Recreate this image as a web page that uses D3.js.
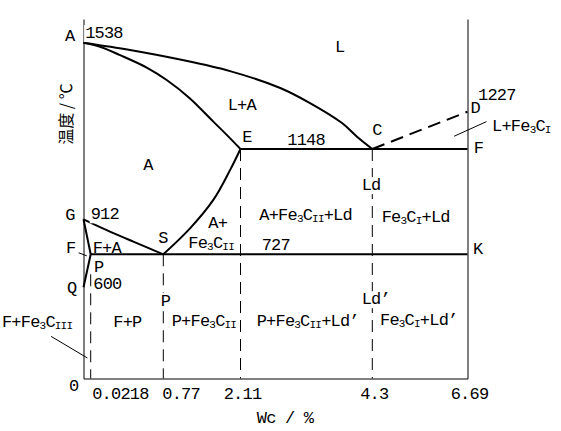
<!DOCTYPE html>
<html>
<head>
<meta charset="utf-8">
<script src="https://d3js.org/d3.v7.min.js"></script>
<style>
  body { margin: 0; background: #fff; }
  svg text { font-family: "Liberation Mono", monospace; font-size: 17px; letter-spacing: -0.8px; fill: #000; }
  .phase { fill: none; stroke: #000; stroke-width: 2; }
  .guide { fill: none; stroke: #000; stroke-width: 1; stroke-dasharray: 12,7; }
  .leader { fill: none; stroke: #000; stroke-width: 1; }
  .domain { stroke: #000; stroke-width: 1; }
</style>
</head>
<body>
<div id="chart"></div>
<script>
// carbon content ticks (wt% C)
var carbonTicks = [0, 0.0218, 0.77, 2.11, 4.3, 6.69];
var carbonTickLabels = ["0", "0.0218", "0.77", "2.11", "4.3", "6.69"];

// key temperatures (deg C), last one is the top of the frame
var keyTemps = [0, 600, 727, 912, 1148, 1227, 1538, 1645];

// phase boundaries as [wt% C, deg C]
var liquidusAC = [[0, 1538], [0.427, 1505], [1.06, 1462], [1.928, 1410], [2.77, 1334],
  [3.265, 1266], [3.797, 1203], [4.046, 1174], [4.3, 1148]];
var liquidusCD = [[4.3, 1148], [6.69, 1227]];
var solidusAE = [[0, 1538], [0.118, 1520], [0.324, 1482], [0.599, 1426], [0.829, 1370],
  [1.233, 1287], [1.638, 1206], [1.871, 1178], [2.11, 1148]];
var eutecticECF = [[2.11, 1148], [6.69, 1148]];
var lineGS = [[0, 912], [0.187, 855], [0.461, 794], [0.77, 727]];
var lineES = [[0.77, 727], [1.234, 864], [1.638, 977], [1.928, 1077], [2.11, 1148]];
var lineGP = [[0, 912], [0.0218, 727]];
var linePQ = [[0.0218, 727], [0, 600]];
var eutectoidPSK = [[0.0218, 727], [6.69, 727]];

// dashed composition guides
var guides = [
  [[0.0218, 650], [0.0218, 0]],
  [[0.77, 727], [0.77, 0]],
  [[2.11, 1148], [2.11, 0]],
  [[4.3, 1148], [4.3, 0]]
];

// leader lines
var leaders = [
  [[6.354, 1175], [7.166, 1206]],
  [[-0.0147, 735], [0.01, 721]],
  [[-0.098, 277], [0.0118, 135]]
];

// labels: x in wt% C, t in deg C ( _{..} = subscript )
var labels = [
  {text: "A", x: -0.0274, t: 1547},
  {text: "1538", x: 0.005, t: 1559},
  {text: "L", x: 3.68, t: 1495},
  {text: "L+A", x: 1.888, t: 1233},
  {text: "E", x: 2.14, t: 1162},
  {text: "1148", x: 2.888, t: 1157},
  {text: "C", x: 4.3, t: 1177},
  {text: "1227", x: 6.955, t: 1280},
  {text: "D", x: 6.765, t: 1224},
  {text: "L+Fe_{3}C_{I}", x: 7.306, t: 1186},
  {text: "F", x: 6.848, t: 1134},
  {text: "Ld", x: 4.124, t: 1010},
  {text: "A", x: 0.564, t: 1077},
  {text: "G", x: -0.0265, t: 908},
  {text: "912", x: 0.0218, t: 912},
  {text: "A+", x: 1.551, t: 864},
  {text: "Fe_{3}C_{II}", x: 1.204, t: 759},
  {text: "A+Fe_{3}C_{II}+Ld", x: 2.422, t: 906},
  {text: "Fe_{3}C_{I}+Ld", x: 4.535, t: 900},
  {text: "727", x: 2.462, t: 750},
  {text: "K", x: 6.83, t: 728},
  {text: "S", x: 0.718, t: 785},
  {text: "F+A", x: 0.0424, t: 736},
  {text: "F", x: -0.0245, t: 732},
  {text: "P", x: 0.0558, t: 660},
  {text: "600", x: 0.0486, t: 587},
  {text: "Q", x: -0.0215, t: 563},
  {text: "P", x: 0.743, t: 478},
  {text: "F+P", x: 0.255, t: 342},
  {text: "P+Fe_{3}C_{II}", x: 0.916, t: 343},
  {text: "P+Fe_{3}C_{II}+Ld\u2019", x: 2.379, t: 343},
  {text: "Fe_{3}C_{I}+Ld\u2019", x: 4.493, t: 353},
  {text: "Ld\u2019", x: 4.124, t: 489},
  {text: "F+Fe_{3}C_{III}", x: -0.0342, t: 337}
];

var svgWidth = 561;
var svgHeight = 431;

var svg = d3.select("#chart")
  .append("svg")
  .attr("width", svgWidth)
  .attr("height", svgHeight);

// schematic (piecewise) scales
var x = d3.scaleLinear()
  .domain(carbonTicks)
  .range([83.5, 90.7, 163.3, 240.5, 372.3, 467.5]);

var y = d3.scaleLinear()
  .domain(keyTemps)
  .range([378.5, 287.3, 254.3, 219.3, 149, 111.7, 42.7, 19]);

var straight = d3.line()
  .x(d => x(d[0]))
  .y(d => y(d[1]));

var curved = d3.line()
  .x(d => x(d[0]))
  .y(d => y(d[1]))
  .curve(d3.curveCatmullRom);

// frame: left, right and bottom axes without ticks
svg.append("g")
  .attr("transform", `translate(${x(0)}, 0)`)
  .call(d3.axisLeft(y).tickValues([]).tickSizeOuter(0));

svg.append("g")
  .attr("transform", `translate(${x(6.69)}, 0)`)
  .call(d3.axisRight(y).tickValues([]).tickSizeOuter(0));

var bottomAxis = svg.append("g")
  .attr("transform", `translate(0, ${y(0)})`)
  .call(d3.axisBottom(x)
    .tickValues(carbonTicks.slice(1))
    .tickFormat((d, i) => carbonTickLabels[i + 1])
    .tickSize(0)
    .tickSizeOuter(0)
    .tickPadding(8));

bottomAxis.selectAll(".tick text")
  .attr("font-family", null)
  .attr("text-anchor", d => d < 1 ? "start" : "middle")
  .attr("dx", d => d < 1 ? (d < 0.1 ? 1 : -1.5) : 1.5);

// origin label
svg.append("text")
  .attr("x", x(-0.0156))
  .attr("y", y(-82))
  .attr("text-anchor", "end")
  .text(carbonTickLabels[0]);

// dashed guides
svg.selectAll(".guide")
  .data(guides)
  .enter()
  .append("path")
  .attr("class", "guide")
  .attr("d", straight);

// phase lines
[liquidusAC, solidusAE, lineGS, lineES].forEach(function(pts) {
  svg.append("path").attr("class", "phase").attr("d", curved(pts));
});
[eutecticECF, lineGP, linePQ, eutectoidPSK].forEach(function(pts) {
  svg.append("path").attr("class", "phase").attr("d", straight(pts));
});
svg.append("path")
  .attr("class", "phase")
  .attr("stroke-dasharray", "13,7")
  .attr("d", straight(liquidusCD));

// leader lines
svg.selectAll(".leader")
  .data(leaders)
  .enter()
  .append("path")
  .attr("class", "leader")
  .attr("d", straight);

// write text with subscripts
function richText(sel, str) {
  var parts = str.split(/_\{([^}]*)\}/);
  var shifted = false;
  parts.forEach(function(p, i) {
    if (p === "") return;
    var ts = sel.append("tspan").text(p);
    if (i % 2 === 1) {
      ts.attr("dy", shifted ? 0 : 2).style("font-size", "11px");
      shifted = true;
    } else {
      ts.attr("dy", shifted ? -2 : 0);
      shifted = false;
    }
  });
}

var labelGroup = svg.append("g");
var guideXs = guides.map(g => x(g[0][0]));

labels.forEach(function(d) {
  var t = labelGroup.append("text")
    .attr("x", x(d.x))
    .attr("y", y(d.t))
    .attr("text-anchor", d.x < 0 ? "end" : "start");
  richText(t, d.text);

  // break a dashed guide where a label sits on it
  var box = t.node().getBBox();
  var hit = guideXs.some(gx => gx > box.x && gx < box.x + box.width);
  if (hit) {
    labelGroup.insert("rect", "text")
      .attr("x", box.x - 1)
      .attr("y", box.y + 1)
      .attr("width", box.width + 2)
      .attr("height", box.height - 2)
      .attr("fill", "#fff");
  }
});

// axis titles
svg.append("text")
  .attr("x", x(2.85))
  .attr("y", 423)
  .attr("text-anchor", "middle")
  .text("Wc / %");

svg.append("text")
  .attr("transform", `translate(${x(0) - 12}, ${y(1222)}) rotate(-90)`)
  .attr("text-anchor", "middle")
  .style("font-family", "'Noto Sans CJK SC', sans-serif")
  .style("font-size", "16px")
  .style("letter-spacing", "0px")
  .text("温度 / ℃");
</script>
</body>
</html>
